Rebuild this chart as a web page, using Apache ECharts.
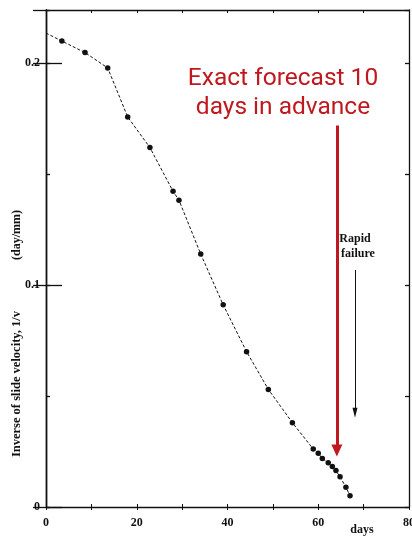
<!DOCTYPE html>
<html>
<head>
<meta charset="utf-8">
<script src="https://cdn.jsdelivr.net/npm/echarts@6/dist/echarts.min.js"></script>
<style>
html,body{margin:0;padding:0;background:#fff;}
#c{width:412px;height:537px;}
</style>
</head>
<body>
<div id="c"></div>
<script>
// ---- data ----
const days = [0, 3.5, 8.6, 13.6, 18.0, 22.9, 28.0, 29.3, 34.1, 39.05, 44.2, 49.0, 54.3, 58.9, 60.0, 60.9, 62.2, 63.1, 63.9, 64.8, 66.1, 67.0];
const inverseVelocity = [0.2136, 0.210, 0.2048, 0.1979, 0.1758, 0.162, 0.1423, 0.1383, 0.114, 0.0911, 0.070, 0.053, 0.038, 0.0261, 0.0242, 0.0219, 0.0200, 0.0182, 0.0164, 0.0136, 0.0089, 0.0051];
const xTickLabels = ['0', '20', '40', '60', '80'];
const yTickLabels = ['0', '0.1', '0.2'];
const forecastArrow = [[64.1, 0.172], [64.1, 0.0255]];
const failureArrow = [[68.1, 0.1068], [68.1, 0.0425]];
const forecastText = ['Exact forecast 10', 'days in advance'];
const failureText = ['Rapid', 'failure'];
const yTitle = ['(day/mm)', 'Inverse of slide velocity, 1/v'];
const xTitle = 'days';

const serif = '"Liberation Serif", "DejaVu Serif", serif';
const chart = echarts.init(document.getElementById('c'), null, {renderer: 'canvas'});

const seriesData = days.map((d, i) => ({
  value: [d, inverseVelocity[i]],
  symbol: i === 0 ? 'none' : 'circle'
}));

const yBase = {
  type: 'value', min: 0, max: 0.224,
  axisLine: {show: true, lineStyle: {color: '#111', width: 1.3}},
  splitLine: {show: false},
  axisLabel: {show: false}
};

const option = {
  animation: false,
  backgroundColor: '#fff',
  grid: {left: 46, right: 3, top: 10, bottom: 30, containLabel: false, outerBoundsMode: 'none'},
  xAxis: [
    {
      type: 'value', min: 0, max: 80, interval: 10, position: 'bottom',
      axisLine: {show: true, onZero: false, lineStyle: {color: '#111', width: 1.3}},
      axisTick: {show: true, inside: false, length: 3, lineStyle: {color: '#111'}},
      splitLine: {show: false},
      axisLabel: {
        show: true, margin: 10, color: '#111', hideOverlap: false,
        fontFamily: serif, fontWeight: 'bold', fontSize: 12,
        formatter: v => xTickLabels.includes(String(v)) ? String(v) : ''
      }
    },
    {
      type: 'value', min: 0, max: 80, interval: 10, position: 'bottom',
      axisLine: {show: false},
      axisTick: {show: true, inside: true, length: 3, lineStyle: {color: '#111'}},
      splitLine: {show: false}, axisLabel: {show: false}
    },
    {
      type: 'value', min: 0, max: 80, interval: 10, position: 'top',
      axisLine: {show: true, onZero: false, lineStyle: {color: '#111', width: 1.3}},
      axisTick: {show: true, inside: true, length: 3, lineStyle: {color: '#111'}},
      splitLine: {show: false}, axisLabel: {show: false}
    }
  ],
  yAxis: [
    Object.assign({}, yBase, {
      position: 'left', interval: 0.1,
      axisTick: {show: true, inside: true, length: 16, lineStyle: {color: '#111', width: 1.3}},
      axisLabel: {
        show: true, margin: 6, color: '#111',
        fontFamily: serif, fontWeight: 'bold', fontSize: 12,
        showMaxLabel: false,
        formatter: v => {
          const s = String(Math.round(v * 1000) / 1000);
          return yTickLabels.includes(s) ? s : '';
        }
      }
    }),
    Object.assign({}, yBase, {
      position: 'left', interval: 0.05,
      axisTick: {show: true, inside: true, length: 4, lineStyle: {color: '#111', width: 1.3}}
    }),
    Object.assign({}, yBase, {
      position: 'right', interval: 0.1,
      axisTick: {show: true, inside: true, length: 13, lineStyle: {color: '#111', width: 1.3}}
    }),
    Object.assign({}, yBase, {
      position: 'right', interval: 0.05,
      axisTick: {show: true, inside: true, length: 4, lineStyle: {color: '#111', width: 1.3}}
    })
  ],
  series: [
    {
      type: 'line', xAxisIndex: 0, yAxisIndex: 0,
      data: seriesData,
      symbolSize: 5.5,
      itemStyle: {color: '#111'},
      lineStyle: {color: '#111', width: 1, type: [3, 2]},
      z: 5,
      markLine: {
        silent: true,
        animation: false,
        label: {show: false},
        emphasis: {disabled: true},
        data: [
          [
            {coord: forecastArrow[0], symbol: 'none', lineStyle: {color: '#C0181F', width: 3, type: 'solid'}},
            {coord: forecastArrow[1], symbol: 'triangle', symbolSize: [11, 12]}
          ],
          [
            {coord: failureArrow[0], symbol: 'none', lineStyle: {color: '#111', width: 1, type: 'solid'}},
            {coord: failureArrow[1], symbol: 'triangle', symbolSize: [5, 10]}
          ]
        ]
      }
    }
  ],
  graphic: [
    {
      type: 'text', x: 283, y: 79,
      style: {
        text: forecastText[0], fill: '#C0181F',
        font: '24.5px Roboto, "Noto Sans", sans-serif',
        textAlign: 'center', textVerticalAlign: 'middle'
      }
    },
    {
      type: 'text', x: 283, y: 108,
      style: {
        text: forecastText[1], fill: '#C0181F',
        font: '24.5px Roboto, "Noto Sans", sans-serif',
        textAlign: 'center', textVerticalAlign: 'middle'
      }
    },
    {
      type: 'text', x: 355, y: 239,
      style: {
        text: failureText[0], fill: '#111',
        font: 'bold 12px "Liberation Serif", serif',
        textAlign: 'center', textVerticalAlign: 'middle'
      }
    },
    {
      type: 'text', x: 358, y: 254,
      style: {
        text: failureText[1], fill: '#111',
        font: 'bold 12px "Liberation Serif", serif',
        textAlign: 'center', textVerticalAlign: 'middle'
      }
    },
    {
      type: 'text', x: 17, y: 235, rotation: Math.PI / 2,
      style: {
        text: yTitle[0], fill: '#111',
        font: 'bold 12px "Liberation Serif", serif',
        textAlign: 'center', textVerticalAlign: 'middle'
      }
    },
    {
      type: 'text', x: 17, y: 384, rotation: Math.PI / 2,
      style: {
        text: yTitle[1], fill: '#111',
        font: 'bold 12.5px "Liberation Serif", serif',
        textAlign: 'center', textVerticalAlign: 'middle'
      }
    },
    {
      type: 'text', x: 362, y: 530,
      style: {
        text: xTitle, fill: '#111',
        font: 'bold 12px "Liberation Serif", serif',
        textAlign: 'center', textVerticalAlign: 'middle'
      }
    }
  ]
};
chart.setOption(option);
</script>
</body>
</html>
